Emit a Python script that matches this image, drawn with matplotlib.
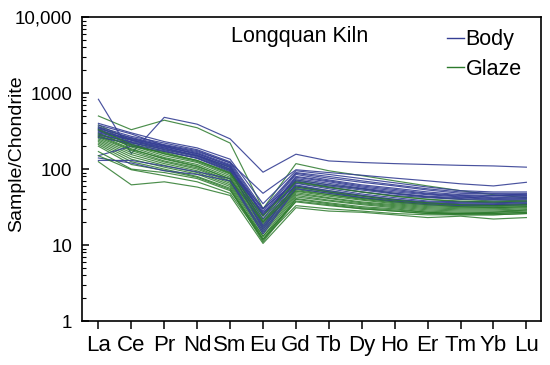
import matplotlib
matplotlib.use("Agg")
import matplotlib.pyplot as plt
from matplotlib.lines import Line2D
from matplotlib.ticker import FixedLocator, LogLocator, NullFormatter

elements = ["La", "Ce", "Pr", "Nd", "Sm", "Eu", "Gd", "Tb", "Dy", "Ho", "Er", "Tm", "Yb", "Lu"]
y_ticks = [1, 10, 100, 1000, 10000]
y_tick_labels = ["1", "10", "100", "1000", "10,000"]

body = [
    [830, 160, 480, 390, 250, 91, 157, 128, 122, 118, 115, 112, 110, 106],
    [380, 290, 205, 170, 122, 48, 98, 90, 83, 76, 70, 64, 60, 67],
    [400, 300, 230, 190, 135, 35, 95, 85, 75, 66, 58, 52, 50, 50],
    [360, 270, 220, 180, 125, 30, 90, 80, 70, 62, 55, 50, 48, 48],
    [340, 260, 210, 175, 120, 28, 88, 76, 67, 60, 53, 48, 47, 46],
    [320, 250, 205, 165, 115, 26, 85, 72, 62, 56, 50, 46, 45, 45],
    [300, 240, 195, 160, 110, 24, 80, 70, 60, 54, 48, 45, 44, 44],
    [350, 255, 200, 155, 105, 22, 78, 68, 58, 52, 47, 44, 42, 43],
    [280, 230, 190, 150, 108, 25, 75, 65, 56, 50, 46, 43, 41, 42],
    [260, 220, 185, 150, 100, 20, 72, 62, 55, 48, 44, 42, 40, 41],
    [310, 245, 200, 160, 112, 18, 70, 58, 50, 45, 42, 40, 40, 40],
    [290, 225, 180, 145, 98, 16, 65, 55, 47, 42, 38, 37, 38, 38],
    [150, 200, 170, 140, 95, 17, 62, 52, 45, 40, 37, 36, 36, 37],
    [140, 120, 95, 85, 70, 14, 55, 48, 42, 38, 35, 34, 34, 35],
    [130, 130, 110, 92, 75, 15, 58, 50, 44, 39, 36, 35, 35, 36],
    [330, 240, 190, 150, 100, 30, 68, 60, 53, 47, 43, 41, 45, 47],
    [270, 210, 175, 138, 92, 27, 60, 50, 42, 37, 34, 33, 33, 34],
]

glaze = [
    [500, 330, 440, 350, 220, 30, 118, 95, 82, 70, 60, 52, 46, 42],
    [380, 240, 180, 150, 105, 25, 72, 62, 55, 48, 43, 40, 38, 39],
    [360, 225, 170, 140, 96, 22, 66, 57, 50, 44, 40, 37, 36, 37],
    [340, 215, 160, 130, 88, 20, 60, 52, 45, 40, 36, 34, 34, 35],
    [320, 205, 150, 122, 82, 19, 56, 48, 42, 38, 35, 33, 33, 34],
    [300, 195, 142, 115, 78, 18, 54, 46, 40, 36, 33, 32, 32, 33],
    [280, 185, 135, 108, 74, 17, 51, 44, 39, 35, 32, 31, 31, 32],
    [260, 175, 128, 104, 70, 16, 49, 42, 37, 34, 31, 30, 30, 31],
    [250, 165, 124, 100, 68, 15, 47, 41, 36, 33, 30, 29, 29, 30],
    [240, 155, 118, 95, 65, 14, 45, 39, 35, 32, 29, 28, 28, 29],
    [230, 145, 112, 90, 62, 13, 43, 38, 34, 31, 28, 27, 27, 28],
    [220, 135, 106, 86, 59, 12, 41, 36, 32, 30, 27, 26, 26, 27],
    [210, 125, 100, 80, 56, 11.5, 40, 35, 31, 29, 27, 26, 26, 27],
    [200, 115, 96, 78, 54, 11, 38, 34, 30, 28, 26, 25, 25, 26],
    [170, 100, 90, 75, 52, 13, 37, 33, 30, 28, 26, 26, 27, 29],
    [125, 62, 68, 58, 45, 10.5, 31, 28, 27, 25, 23, 24, 22, 23],
    [150, 98, 82, 68, 48, 12, 33, 30, 28, 26, 25, 25, 25, 26],
    [290, 200, 165, 130, 90, 24, 68, 58, 50, 44, 40, 38, 37, 38],
    [330, 210, 158, 126, 86, 21, 58, 50, 44, 39, 36, 34, 33, 34],
    [270, 180, 138, 110, 74, 20, 52, 46, 41, 37, 34, 32, 31, 32],
]

BLUE = "#353f94"
GREEN = "#2c7a2c"

plt.rcParams["font.family"] = ["Liberation Sans", "DejaVu Sans"]

fig = plt.figure(figsize=(5.5, 3.65), dpi=100)
ax = fig.add_axes([0.149, 0.1205, 0.835, 0.8325])

x = list(range(len(elements)))
n = max(len(body), len(glaze))
for i in range(n):
    if i < len(glaze):
        ax.plot(x, glaze[i], color=GREEN, lw=0.85, alpha=0.85)
    if i < len(body):
        ax.plot(x, body[i], color=BLUE, lw=0.85, alpha=0.9)

ax.set_yscale("log")
ax.set_ylim(1, 10000)
ax.set_xlim(-0.5, 13.45)
ax.yaxis.set_major_locator(FixedLocator(y_ticks))
ax.set_yticklabels(y_tick_labels, fontsize=13.5)
ax.yaxis.set_minor_locator(LogLocator(base=10, subs=range(2, 10)))
ax.yaxis.set_minor_formatter(NullFormatter())
ax.set_xticks(x)
ax.set_xticklabels(elements, fontsize=16)
ax.tick_params(axis="y", which="major", direction="in", length=5, width=1.1, pad=7)
ax.tick_params(axis="y", which="minor", direction="in", length=3, width=0.8)
ax.tick_params(axis="x", which="major", direction="out", length=6, width=1.1, pad=4)
for s in ax.spines.values():
    s.set_linewidth(1.2)

fig.text(17 / 550, 1 - 154 / 365, "Sample/Chondrite", rotation=90,
         ha="center", va="center", fontsize=14)
ax.text(0.473, 0.935, "Longquan Kiln", transform=ax.transAxes, ha="center", va="center", fontsize=15.5)

handles = [Line2D([0], [0], color=BLUE, lw=1), Line2D([0], [0], color=GREEN, lw=1)]
ax.legend(handles, ["Body", "Glaze"], loc="upper right", bbox_to_anchor=(0.99, 1.01),
          frameon=False, fontsize=15.5, handlelength=0.8, handletextpad=0.05,
          labelspacing=0.4, borderaxespad=0.3)

fig.savefig("out.png", dpi=100)
